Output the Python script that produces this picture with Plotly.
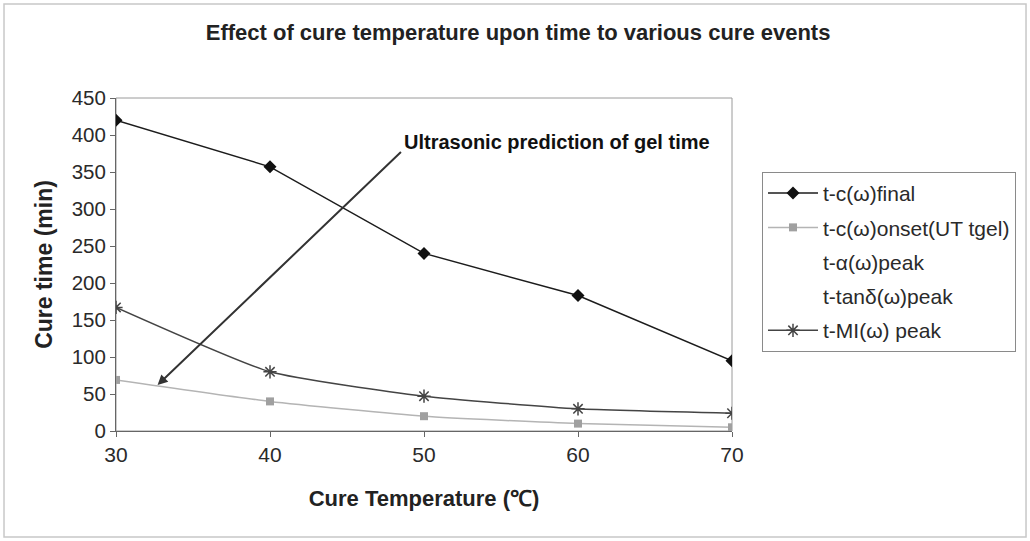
import plotly.graph_objects as go

temps = [30, 40, 50, 60, 70]
t_c_final = [420, 357, 240, 183, 95]
t_c_onset = [69, 40, 20, 10, 5]
t_alpha_peak = [None, None, None, None, None]
t_tand_peak = [None, None, None, None, None]
t_mi_peak = [167, 80, 47, 30, 24]

x_ticks = [30, 40, 50, 60, 70]
y_ticks = [0, 50, 100, 150, 200, 250, 300, 350, 400, 450]

FONT = "Liberation Sans, Arial, sans-serif"
TXT = "#2a2a2a"

fig = go.Figure()
fig.add_trace(go.Scatter(x=temps, y=t_c_final, name="t-c(ω)final", legendgroup="a",
                         mode="lines+markers", line=dict(color="#1c1c1c", width=1.5),
                         marker=dict(symbol="diamond", size=10, color="#111")))
fig.add_trace(go.Scatter(x=temps, y=t_c_onset, name="t-c(ω)onset(UT tgel)", legendgroup="b",
                         mode="lines+markers", line=dict(color="#b4b4b4", width=1.5, shape="spline", smoothing=0.5),
                         marker=dict(symbol="square", size=8, color="#a0a0a0")))
fig.add_trace(go.Scatter(x=temps, y=t_alpha_peak, name="t-α(ω)peak", legendgroup="c",
                         mode="lines", line=dict(color="rgba(0,0,0,0)", width=1)))
fig.add_trace(go.Scatter(x=temps, y=t_tand_peak, name="t-tanδ(ω)peak", legendgroup="d",
                         mode="lines", line=dict(color="rgba(0,0,0,0)", width=1)))
fig.add_trace(go.Scatter(x=temps, y=t_mi_peak, name="t-MI(ω) peak", legendgroup="e",
                         mode="lines+markers", line=dict(color="#444", width=1.5, shape="spline", smoothing=0.5),
                         marker=dict(symbol="asterisk-open", size=11, line=dict(color="#333", width=1.5))))

fig.update_layout(
    width=1030, height=541,
    margin=dict(l=116, r=298, t=98, b=110),
    paper_bgcolor="white", plot_bgcolor="white",
    font=dict(family=FONT, color=TXT, size=18),
    title=dict(text="<b>Effect of cure temperature upon time to various cure events</b>",
               x=0.503, xref="container", xanchor="center", y=0.941, yanchor="middle",
               font=dict(size=22, color="#222")),
    showlegend=True,
    legend=dict(x=1.0487, y=0.778, xanchor="left", yanchor="top",
                bordercolor="#8a8a8a", borderwidth=1, bgcolor="white",
                font=dict(size=21, color=TXT), tracegroupgap=4, itemwidth=50),
    xaxis=dict(range=[30, 70], tickvals=x_ticks, ticks="outside", ticklen=5, tickcolor="#666",
               showline=True, linecolor="#666", linewidth=1, showgrid=False, zeroline=False,
               tickfont=dict(size=21, color=TXT),
               title=dict(text="<b>Cure Temperature (℃)</b>", font=dict(size=22, color="#222"), standoff=25)),
    yaxis=dict(range=[0, 450], tickvals=y_ticks, ticks="outside", ticklen=5, tickcolor="#666",
               showline=True, linecolor="#666", linewidth=1, showgrid=False, zeroline=False,
               tickfont=dict(size=20.5, color=TXT),
               title=dict(text="<b>Cure time (min)</b>", font=dict(size=23, color="#222"), standoff=12)),
    shapes=[
        dict(type="rect", xref="paper", yref="paper", x0=0, x1=1, y0=0, y1=1,
             line=dict(color="#9a9a9a", width=1), layer="below"),
        dict(type="rect", xref="paper", yref="paper", x0=-0.1818, x1=1.4773, y0=-0.3183, y1=1.2823,
             line=dict(color="#c8c8c8", width=1.5), layer="below"),
    ],
    annotations=[
        dict(x=32.7, y=62, ax=48.6, ay=379, xref="x", yref="y", axref="x", ayref="y",
             text="", showarrow=True, arrowhead=2, arrowsize=1, arrowwidth=2, arrowcolor="#333"),
        dict(x=48.6, y=391, xref="x", yref="y", xanchor="left", yanchor="middle", showarrow=False,
             text="<b>Ultrasonic prediction of gel time</b>",
             font=dict(family="Liberation Sans Narrow, Liberation Sans, Arial", size=20, color="#111")),
    ],
)

fig.write_html("out.html", config={"displayModeBar": False},
               post_script="document.body.style.margin='0';")
